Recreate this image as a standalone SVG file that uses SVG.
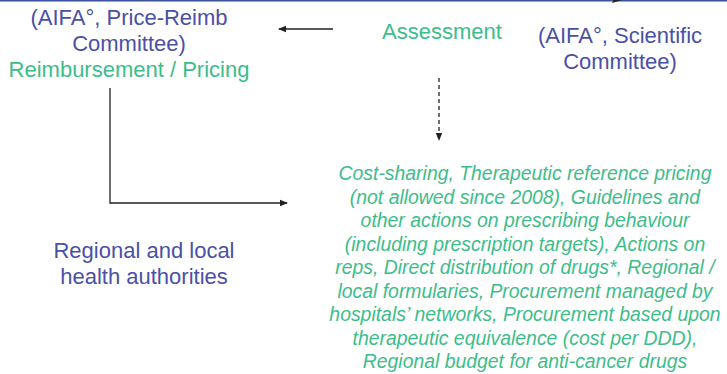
<svg xmlns="http://www.w3.org/2000/svg" width="727" height="374" viewBox="0 0 727 374">
<style>
.blue{fill:#4a50a6;font-family:"Liberation Sans",Arial,sans-serif;font-size:22px;text-anchor:middle}
.green{fill:#3cbd8a;font-family:"Liberation Sans",Arial,sans-serif;font-size:22px;text-anchor:middle}
.it{fill:#3cbd8a;font-family:"Liberation Sans",Arial,sans-serif;font-size:19.4px;font-style:italic;text-anchor:middle}
.ln{stroke:#222;stroke-width:1.3;fill:none}
</style>
<defs>
<marker id="ah" markerWidth="8" markerHeight="8" refX="7" refY="4" orient="auto" markerUnits="userSpaceOnUse">
<path d="M0,0.8 L8,4 L0,7.2 z" fill="#222"/>
</marker>
</defs>
<rect x="0" y="0" width="727" height="374" fill="#fff"/>
<line x1="0" y1="0.8" x2="727" y2="0.8" stroke="#3a52a0" stroke-width="1.6"/>
<g id="connectors">
<path d="M612,3 L622,0 L614,-1 z" fill="#222"/>
<line class="ln" x1="333" y1="29" x2="279" y2="29" marker-end="url(#ah)"/>
<line class="ln" x1="439" y1="78" x2="439" y2="140" stroke-dasharray="4,3" marker-end="url(#ah)"/>
<polyline class="ln" points="110,88 110,203 287,203" marker-end="url(#ah)"/>
</g>
<g id="price-committee">
<text class="blue" x="129" y="25">(AIFA°, Price-Reimb</text>
<text class="blue" x="129" y="51">Committee)</text>
</g>
<g id="reimbursement">
<text class="green" x="129" y="77">Reimbursement / Pricing</text>
</g>
<g id="assessment">
<text class="green" x="442" y="39">Assessment</text>
</g>
<g id="scientific-committee">
<text class="blue" x="620" y="43">(AIFA°, Scientific</text>
<text class="blue" x="620" y="69">Committee)</text>
</g>
<g id="regional">
<text class="blue" x="144" y="258">Regional and local</text>
<text class="blue" x="144" y="284">health authorities</text>
</g>
<g id="measures">
<text class="it" x="525" y="180">Cost-sharing, Therapeutic reference pricing</text>
<text class="it" x="525" y="203.5">(not allowed since 2008), Guidelines and</text>
<text class="it" x="525" y="227">other actions on prescribing behaviour</text>
<text class="it" x="525" y="250.5">(including prescription targets), Actions on</text>
<text class="it" x="525" y="274">reps, Direct distribution of drugs*, Regional /</text>
<text class="it" x="525" y="297.5">local formularies, Procurement managed by</text>
<text class="it" x="525" y="321">hospitals’ networks, Procurement based upon</text>
<text class="it" x="525" y="344.5">therapeutic equivalence (cost per DDD),</text>
<text class="it" x="525" y="368">Regional budget for anti-cancer drugs</text>
</g>
</svg>
